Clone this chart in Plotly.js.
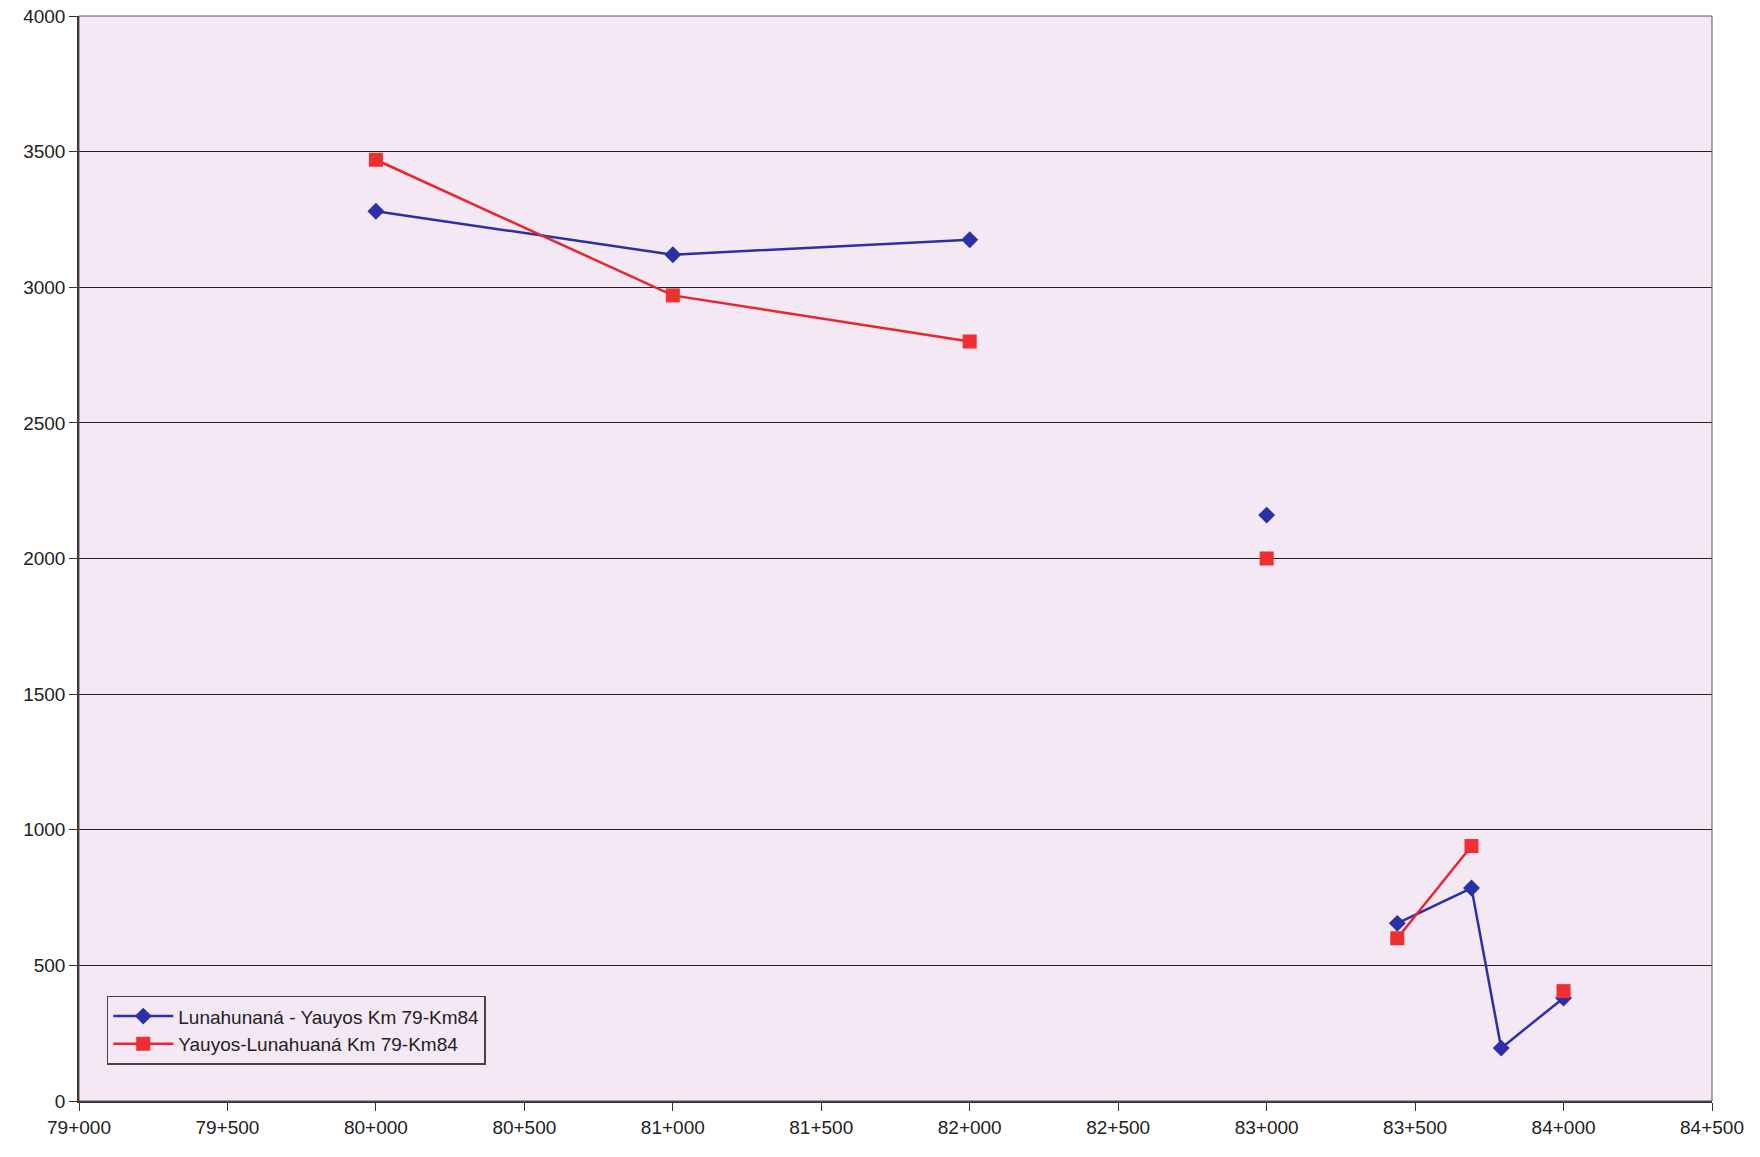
<!DOCTYPE html>
<html>
<head>
<meta charset="utf-8">
<script src="https://cdn.plot.ly/plotly-3.0.1.min.js"></script>
<style>body{margin:0;background:#fff}#chart{width:1760px;height:1157px}</style>
</head>
<body>
<div id="chart"></div>
<script>
// chainage in metres
const stations = [80000, 81000, 82000, 82500, 83000, 83200, 83440, 83690, 83790, 84000];
const lunahuanaYauyos = [3280, 3120, 3175, null, 2160, null, 655, 785, 195, 380];
const yauyosLunahuana = [3470, 2970, 2800, null, 2000, null, 600, 940, null, 405];
const tickVals = [79000, 79500, 80000, 80500, 81000, 81500, 82000, 82500, 83000, 83500, 84000, 84500];
const tickText = ["79+000","79+500","80+000","80+500","81+000","81+500","82+000","82+500","83+000","83+500","84+000","84+500"];

const traces = [
  {
    x: stations, y: lunahuanaYauyos, type: 'scatter', mode: 'lines+markers',
    name: 'Lunahunaná - Yauyos Km 79-Km84',
    line: {color: '#2b2fa8', width: 2.5},
    marker: {symbol: 'diamond', size: 13, color: '#2b2fa8'}
  },
  {
    x: stations, y: yauyosLunahuana, type: 'scatter', mode: 'lines+markers',
    name: 'Yauyos-Lunahuaná Km 79-Km84',
    line: {color: '#e8262b', width: 2.5},
    marker: {symbol: 'square', size: 14, color: '#f03030'}
  }
];

const layout = {
  width: 1760, height: 1157,
  margin: {l: 79, r: 48, t: 16, b: 56},
  paper_bgcolor: '#ffffff',
  plot_bgcolor: '#f4e8f4',
  font: {family: 'Liberation Sans, Arial, sans-serif', size: 19, color: '#222'},
  showlegend: true,
  legend: {
    x: 0.017, y: 0.097, xanchor: 'left', yanchor: 'top',
    bgcolor: '#f4e8f4', bordercolor: '#444', borderwidth: 1.5,
    font: {size: 19}, tracegroupgap: 14, itemwidth: 60,
    entrywidth: 400
  },
  xaxis: {
    range: [79000, 84500], tickvals: tickVals, ticktext: tickText,
    showgrid: false, zeroline: false, showline: true, linecolor: '#333', linewidth: 1.5,
    ticks: 'outside', ticklen: 8, tickcolor: '#333'
  },
  yaxis: {
    range: [0, 4000], dtick: 500, showgrid: true, gridcolor: '#222', gridwidth: 1.3,
    zeroline: false, showline: true, linecolor: '#333', linewidth: 1.5,
    ticks: 'outside', ticklen: 8, tickcolor: '#333'
  },
  shapes: [{type: 'rect', xref: 'paper', yref: 'paper', x0: 0, x1: 1, y0: 0, y1: 1,
    line: {color: '#555', width: 1}}]
};

Plotly.newPlot('chart', traces, layout, {displayModeBar: false});
</script>
</body>
</html>
